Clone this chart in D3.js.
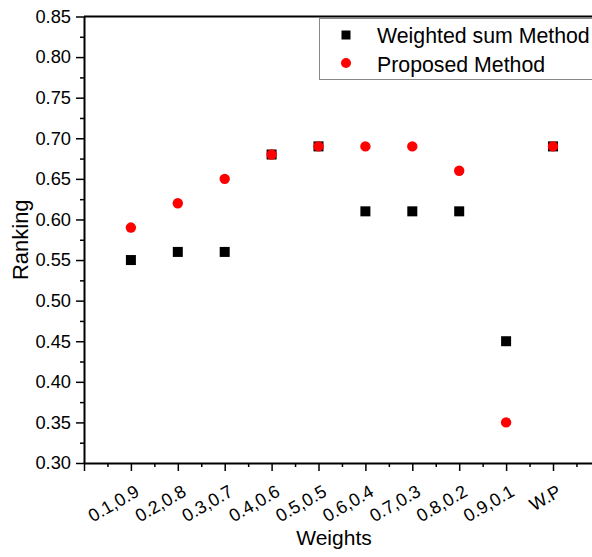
<!DOCTYPE html>
<html>
<head>
<meta charset="utf-8">
<script src="https://cdn.jsdelivr.net/npm/d3@7"></script>
<style>
  html, body { margin: 0; padding: 0; background: #fff; overflow: hidden; }
  svg { display: block; font-family: "Liberation Sans", Arial, sans-serif; }
</style>
</head>
<body>
<svg id="chart" width="592" height="557"></svg>
<script>
// Weight pairs on the x axis
const categories = ["0.1,0.9", "0.2,0.8", "0.3,0.7", "0.4,0.6", "0.5,0.5",
                    "0.6,0.4", "0.7,0.3", "0.8,0.2", "0.9,0.1", "W.P"];
// Ranking values for each method
const weightedSum = [0.55, 0.56, 0.56, 0.68, 0.69, 0.61, 0.61, 0.61, 0.45, 0.69];
const proposed    = [0.59, 0.62, 0.65, 0.68, 0.69, 0.69, 0.69, 0.66, 0.35, 0.69];
const yTicks = [0.30, 0.35, 0.40, 0.45, 0.50, 0.55, 0.60, 0.65, 0.70, 0.75, 0.80, 0.85];
const seriesNames = ["Weighted sum Method", "Proposed Method"];

const svg = d3.select("#chart");
const plotLeft = 84, plotTop = 16.5, plotBottom = 463;

// x positions: categories sit at 1..10, frame spans 0..11
const x = d3.scaleLinear().domain([0, 11]).range([plotLeft, plotLeft + 11 * 46.9]);
const y = d3.scaleLinear().domain([0.30, 0.85]).range([plotBottom, plotTop]);

// frame: top border
svg.append("line")
  .attr("x1", plotLeft).attr("x2", x(11)).attr("y1", plotTop).attr("y2", plotTop)
  .attr("stroke", "#000").attr("stroke-width", 2);

// Y axis with major labelled ticks and minor ticks
const yAxis = d3.axisLeft(y).tickValues(yTicks).tickFormat(d3.format(".2f"))
  .tickSize(8).tickSizeOuter(0).tickPadding(5);
const gy = svg.append("g").attr("transform", `translate(${plotLeft},0)`).call(yAxis);
gy.select(".domain").attr("stroke-width", 2);
gy.selectAll(".tick line").attr("stroke-width", 1.5);
gy.selectAll("text").attr("font-size", 18.3).attr("fill", "#000")
  .attr("font-family", "Liberation Sans, Arial, sans-serif");
const yMinor = d3.range(0.325, 0.85, 0.05);
svg.append("g").attr("transform", `translate(${plotLeft},0)`)
  .call(d3.axisLeft(y).tickValues(yMinor).tickSize(4).tickFormat(""))
  .call(g => g.select(".domain").remove())
  .selectAll(".tick line").attr("stroke-width", 1.5);

// X axis
const xMajor = d3.range(0, 11);
const xAxis = d3.axisBottom(x).tickValues(xMajor)
  .tickFormat(d => (d >= 1 && d <= categories.length) ? categories[d - 1] : "")
  .tickSize(8).tickSizeOuter(0);
const gx = svg.append("g").attr("transform", `translate(0,${plotBottom})`).call(xAxis);
gx.select(".domain").attr("stroke-width", 2);
gx.selectAll(".tick line").attr("stroke-width", 1.5);
gx.selectAll("text")
  .attr("font-size", 18).attr("fill", "#000")
  .attr("font-family", "Liberation Sans, Arial, sans-serif")
  .attr("text-anchor", "end")
  .attr("dy", 0).attr("y", 0)
  .attr("transform", "translate(9,32) rotate(-30)");
svg.append("g").attr("transform", `translate(0,${plotBottom})`)
  .call(d3.axisBottom(x).tickValues(d3.range(0.5, 11, 1)).tickSize(4).tickFormat(""))
  .call(g => g.select(".domain").remove())
  .selectAll(".tick line").attr("stroke-width", 1.5);

// Axis titles
svg.append("text").attr("x", 334).attr("y", 545).attr("text-anchor", "middle")
  .attr("font-size", 21).text("Weights");
svg.append("text").attr("transform", `translate(28,${(plotTop + plotBottom) / 2}) rotate(-90)`)
  .attr("text-anchor", "middle").attr("font-size", 22).text("Ranking");

// Points: squares first, circles on top
const sq = 10;
svg.append("g").selectAll("rect").data(weightedSum).join("rect")
  .attr("x", (d, i) => x(i + 1) - sq / 2).attr("y", d => y(d) - sq / 2)
  .attr("width", sq).attr("height", sq).attr("fill", "#000");
svg.append("g").selectAll("circle").data(proposed).join("circle")
  .attr("cx", (d, i) => x(i + 1)).attr("cy", d => y(d)).attr("r", 5.2)
  .attr("fill", "#ff0000");

// Legend
const lg = svg.append("g");
lg.append("rect").attr("x", 319.5).attr("y", 18.5).attr("width", 300).attr("height", 61)
  .attr("fill", "#fff").attr("stroke", "#888").attr("stroke-width", 1);
lg.append("rect").attr("x", 346 - 4.5).attr("y", 35 - 4.5).attr("width", 9).attr("height", 9)
  .attr("fill", "#000");
lg.append("circle").attr("cx", 346).attr("cy", 63).attr("r", 5).attr("fill", "#ff0000");
lg.append("text").attr("x", 377).attr("y", 43).attr("font-size", 21.3).text(seriesNames[0]);
lg.append("text").attr("x", 377).attr("y", 72).attr("font-size", 21.3).text(seriesNames[1]);
</script>
</body>
</html>
